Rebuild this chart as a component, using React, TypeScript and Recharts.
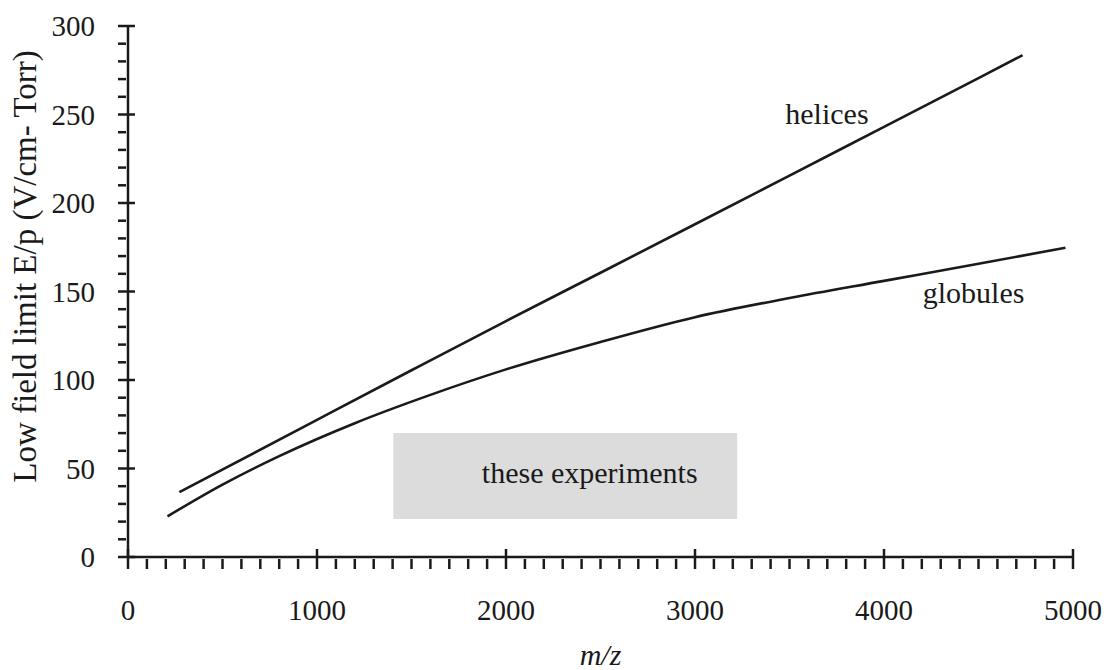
import React from 'react';
import { LineChart, Line, XAxis, YAxis, ReferenceArea, ReferenceDot } from 'recharts';

// Low-field limit curves (m/z vs. E/p in V/cm-Torr)
const helicesMz = [272, 1000, 1500, 2000, 2500, 3000, 3500, 4000, 4500, 4733];
const helicesField = [36.6, 77.5, 105.5, 133.3, 160.6, 188, 215.5, 243, 270.5, 283.5];

const globulesMz = [209, 500, 800, 1200, 1600, 2000, 2500, 3000, 3500, 4000, 4500, 4960];
const globulesField = [23, 40.9, 57, 75.6, 91.6, 106, 121.5, 135.5, 146.3, 156, 165.7, 174.7];

// Range covered by the experiments (shaded box)
const experimentMz = [1404, 3223];
const experimentField = [21.5, 70];

// Axis ticks
const xMajorTicks = [0, 1000, 2000, 3000, 4000, 5000];
const yMajorTicks = [0, 50, 100, 150, 200, 250, 300];
const xTicks = Array.from({ length: 51 }, (_, i) => i * 100);
const yTicks = Array.from({ length: 31 }, (_, i) => i * 10);

// Annotations: [m/z, field, text]
const curveLabels: [number, number, string][] = [
  [3698, 244.6, 'helices'],
  [4474, 143.7, 'globules'],
  [2443, 41.8, 'these experiments'],
];

const helicesData = helicesMz.map((mz, i) => ({ mz, field: helicesField[i] }));
const globulesData = globulesMz.map((mz, i) => ({ mz, field: globulesField[i] }));

const INK = '#1a1a1a';
const FONT = '"Liberation Serif", "Times New Roman", serif';

const XTick = (props: any) => {
  const { x, y, payload } = props;
  const v = payload.value;
  const major = xMajorTicks.includes(v);
  return (
    <g>
      <line x1={x} x2={x} y1={major ? y - 10 : y} y2={y + 10} stroke={INK} strokeWidth={2.5} />
      {major && (
        <text x={x} y={y + 61} textAnchor="middle" fontSize={29} fill={INK} fontFamily={FONT}>
          {v}
        </text>
      )}
    </g>
  );
};

const YTick = (props: any) => {
  const { x, y, payload } = props;
  const v = payload.value;
  const major = yMajorTicks.includes(v);
  return (
    <g>
      <line x1={x - 8} x2={major ? x + 9 : x} y1={y} y2={y} stroke={INK} strokeWidth={2.5} />
      {major && (
        <text x={x - 31} y={y + 10} textAnchor="end" fontSize={29} fill={INK} fontFamily={FONT}>
          {v}
        </text>
      )}
    </g>
  );
};

const YTitle = (props: any) => {
  const vb = props.viewBox;
  const cx = vb.x + 36;
  const cy = vb.y + 240.5;
  return (
    <text
      x={cx}
      y={cy}
      transform={`rotate(-90, ${cx}, ${cy})`}
      textAnchor="middle"
      fontSize={33}
      fill={INK}
      fontFamily={FONT}
    >
      Low field limit E/p (V/cm- Torr)
    </text>
  );
};

const XTitle = (props: any) => {
  const vb = props.viewBox;
  return (
    <text
      x={vb.x + vb.width / 2}
      y={vb.y + 108}
      textAnchor="middle"
      fontSize={30}
      fontStyle="italic"
      fill={INK}
      fontFamily={FONT}
    >
      m/z
    </text>
  );
};

const makeAnnotation = (text: string) => (props: any) => {
  const vb = props.viewBox;
  return (
    <text
      x={vb.x + (vb.width || 0) / 2}
      y={vb.y + (vb.height || 0) / 2}
      textAnchor="middle"
      fontSize={30}
      fill={INK}
      fontFamily={FONT}
    >
      {text}
    </text>
  );
};

export default function App() {
  return (
    <div style={{ position: 'absolute', left: 0, top: 0, width: 1112, height: 670, background: '#fff' }}>
      <LineChart width={1112} height={670} margin={{ top: 26, right: 39, bottom: 0, left: 0 }}>
        <XAxis
          dataKey="mz"
          type="number"
          domain={[0, 5000]}
          ticks={xTicks}
          interval={0}
          tickSize={0}
          tickLine={false}
          tick={<XTick />}
          height={113}
          axisLine={{ stroke: INK, strokeWidth: 2.5 }}
          label={{ content: <XTitle /> }}
        />
        <YAxis
          type="number"
          domain={[0, 300]}
          ticks={yTicks}
          interval={0}
          tickSize={0}
          tickLine={false}
          tick={<YTick />}
          width={128}
          axisLine={{ stroke: INK, strokeWidth: 2.5 }}
          label={{ content: <YTitle /> }}
        />
        <ReferenceArea
          x1={experimentMz[0]}
          x2={experimentMz[1]}
          y1={experimentField[0]}
          y2={experimentField[1]}
          fill="#dcdcdc"
          fillOpacity={1}
          stroke="none"
        />
        <Line
          data={helicesData}
          dataKey="field"
          type="monotone"
          stroke={INK}
          strokeWidth={2.6}
          dot={false}
          activeDot={false}
          isAnimationActive={false}
        />
        <Line
          data={globulesData}
          dataKey="field"
          type="monotone"
          stroke={INK}
          strokeWidth={2.6}
          dot={false}
          activeDot={false}
          isAnimationActive={false}
        />
        {curveLabels.map(([mz, field, text]) => (
          <ReferenceDot
            key={text}
            x={mz}
            y={field}
            r={0}
            fill="none"
            stroke="none"
            label={{ content: makeAnnotation(text) }}
          />
        ))}
      </LineChart>
    </div>
  );
}
